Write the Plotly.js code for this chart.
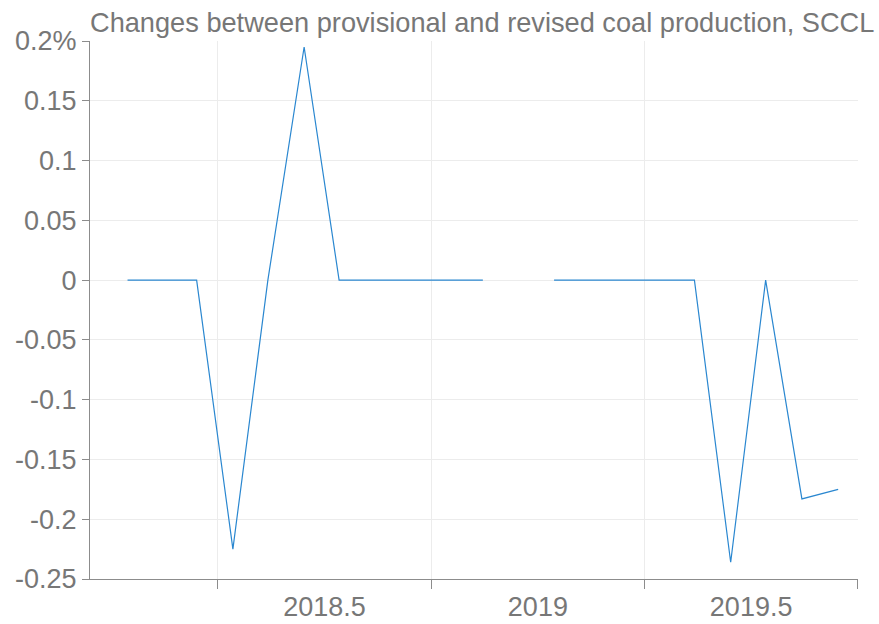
<!DOCTYPE html>
<html>
<head>
<meta charset="utf-8">
<script src="https://cdn.plot.ly/plotly-3.0.1.min.js"></script>
<style>html,body{margin:0;padding:0;background:#fff;}#chart{width:879px;height:624px;}</style>
</head>
<body>
<div id="chart"></div>
<script>
// Months (15th of each month as decimal year), Jan 2018 – Sep 2019
const months = [
  2018.038, 2018.123, 2018.200, 2018.285, 2018.367, 2018.452,
  2018.534, 2018.619, 2018.704, 2018.786, 2018.871, 2018.953,
  2019.038, 2019.123, 2019.200, 2019.285, 2019.367, 2019.452,
  2019.534, 2019.619, 2019.704
];
// Change between provisional and revised production (%)
const changePct = [
  0, 0, 0, -0.225, 0, 0.195,
  0, 0, 0, 0, 0, null,
  0, 0, 0, 0, 0, -0.236,
  0, -0.183, -0.175
];
const xLabelVals = [2018.5, 2019, 2019.5];
const xLabelText = ['2018.5', '2019', '2019.5'];
const xGridVals = [2018.25, 2018.75, 2019.25, 2019.75];
const yTickVals = [-0.25, -0.2, -0.15, -0.1, -0.05, 0, 0.05, 0.1, 0.15, 0.2];
const yTickText = ['-0.25', '-0.2', '-0.15', '-0.1', '-0.05', '0', '0.05', '0.1', '0.15', '0.2%'];
const titleText = 'Changes between provisional and revised coal production, SCCL';

const grey = '#777777';
const font = 'Liberation Sans, Arial, sans-serif';

Plotly.newPlot('chart', [{
  type: 'scatter',
  mode: 'lines',
  x: months,
  y: changePct,
  connectgaps: false,
  line: {color: '#2a87d0', width: 1.2},
  hoverinfo: 'x+y'
}], {
  width: 879,
  height: 624,
  margin: {l: 90, r: 21, t: 41, b: 45},
  paper_bgcolor: '#ffffff',
  plot_bgcolor: '#ffffff',
  showlegend: false,
  font: {family: font, size: 27, color: grey},
  title: {
    text: titleText,
    font: {family: font, size: 27.2, color: grey},
    xref: 'paper', x: 0, xanchor: 'left',
    yref: 'container', y: 0.9633, yanchor: 'middle'
  },
  xaxis: {
    range: [2017.95, 2019.7505],
    tickmode: 'array',
    tickvals: xLabelVals,
    ticktext: xLabelText,
    ticks: 'outside',
    ticklen: 4,
    tickcolor: 'rgba(0,0,0,0)',
    showgrid: false,
    zeroline: false,
    showline: true,
    linecolor: '#8c8c8c',
    linewidth: 1,
    tickfont: {family: font, size: 27, color: grey},
    minor: {
      tickmode: 'array',
      tickvals: xGridVals,
      ticks: 'outside',
      ticklen: 9,
      tickcolor: '#8c8c8c',
      tickwidth: 1,
      showgrid: true,
      gridcolor: '#ececec',
      gridwidth: 1
    }
  },
  yaxis: {
    range: [-0.25, 0.2],
    tickmode: 'array',
    tickvals: yTickVals,
    ticktext: yTickText,
    ticks: 'outside',
    ticklen: 7,
    tickcolor: '#8c8c8c',
    showgrid: true,
    gridcolor: '#ececec',
    zeroline: false,
    showline: true,
    linecolor: '#8c8c8c',
    linewidth: 1,
    tickfont: {family: font, size: 27, color: grey}
  }
}, {displayModeBar: false, staticPlot: true});
</script>
</body>
</html>
